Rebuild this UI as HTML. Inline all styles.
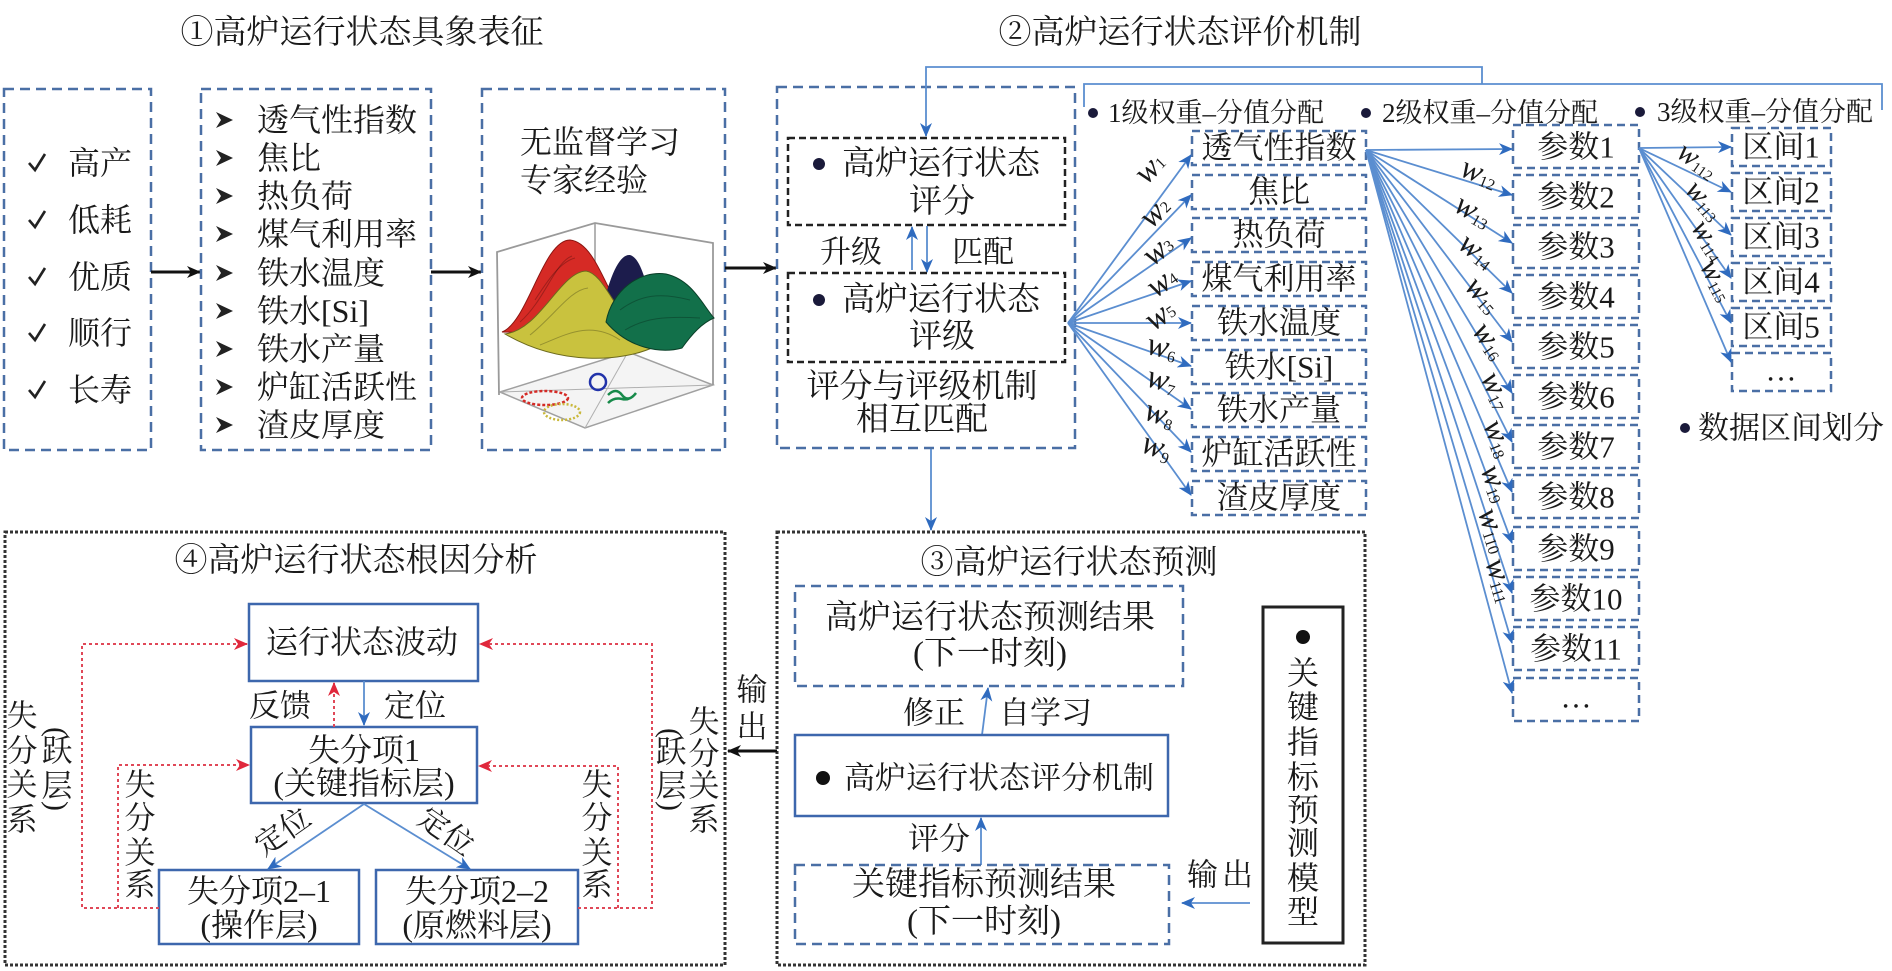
<!DOCTYPE html>
<html><head><meta charset="utf-8">
<style>
html,body{margin:0;padding:0;background:#fff}
svg{display:block;font-family:"Liberation Serif","Noto Serif CJK SC","Noto Serif CJK JP","Noto Serif CJK",serif}
text{dominant-baseline:central}
.m{text-anchor:middle}
.bd{fill:none;stroke:#4a6fa5;stroke-width:2.5;stroke-dasharray:10 6}
.sd{fill:none;stroke:#4a6fa5;stroke-width:2.5;stroke-dasharray:8 5}
.kd{fill:none;stroke:#222;stroke-width:2.5;stroke-dasharray:7 4}
.od{fill:none;stroke:#333;stroke-width:3;stroke-dasharray:3 2}
.bs{fill:none;stroke:#3d67ad;stroke-width:2.5}
.ln{fill:none;stroke:#5b8ed0;stroke-width:1.8}
.rd{fill:none;stroke:#e04858;stroke-width:2;stroke-dasharray:3 3}
.wl{font-family:"Liberation Serif",serif}
</style></head>
<body>
<svg width="1892" height="971" viewBox="0 0 1892 971" xmlns="http://www.w3.org/2000/svg" fill="#1a1a1a">
<defs>
<marker id="ab" markerUnits="userSpaceOnUse" markerWidth="14" markerHeight="12" refX="13" refY="6" orient="auto"><path d="M0,0 L14,6 L0,12 L4,6 z" fill="#2f6bbf"/></marker>
<marker id="ak" markerUnits="userSpaceOnUse" markerWidth="14" markerHeight="12" refX="13" refY="6" orient="auto"><path d="M0,0 L14,6 L0,12 L4,6 z" fill="#111"/></marker>
<marker id="ar" markerUnits="userSpaceOnUse" markerWidth="14" markerHeight="12" refX="13" refY="6" orient="auto"><path d="M0,0 L14,6 L0,12 L4,6 z" fill="#e0283c"/></marker>
</defs>

<!-- Titles -->
<text x="362" y="33" font-size="33" class="m">①高炉运行状态具象表征</text>
<text x="1180" y="33" font-size="33" class="m">②高炉运行状态评价机制</text>

<!-- Box 1 -->
<rect x="4" y="89" width="147" height="361" class="bd"/>
<g stroke="#222" stroke-width="2.6" fill="none">
<path d="M29,163 L35,170 L45,154"/>
<path d="M29,220 L35,227 L45,211"/>
<path d="M29,277 L35,284 L45,268"/>
<path d="M29,333 L35,340 L45,324"/>
<path d="M29,390 L35,397 L45,381"/>
</g>
<g font-size="32">
<text x="68" y="163">高产</text>
<text x="68" y="220">低耗</text>
<text x="68" y="277">优质</text>
<text x="68" y="333">顺行</text>
<text x="68" y="390">长寿</text>
</g>
<line x1="151" y1="272" x2="200" y2="272" stroke="#111" stroke-width="3" marker-end="url(#ak)"/>

<!-- Box 2 -->
<rect x="201" y="89" width="230" height="361" class="bd"/>
<g fill="#222">
<polygon points="216,112 233,120 216,128 221,120"/>
<polygon points="216,150 233,158 216,166 221,158"/>
<polygon points="216,188 233,196 216,204 221,196"/>
<polygon points="216,226 233,234 216,242 221,234"/>
<polygon points="216,265 233,273 216,281 221,273"/>
<polygon points="216,303 233,311 216,319 221,311"/>
<polygon points="216,341 233,349 216,357 221,349"/>
<polygon points="216,379 233,387 216,395 221,387"/>
<polygon points="216,417 233,425 216,433 221,425"/>
</g>
<g font-size="32">
<text x="257" y="120">透气性指数</text>
<text x="257" y="158">焦比</text>
<text x="257" y="196">热负荷</text>
<text x="257" y="234">煤气利用率</text>
<text x="257" y="273">铁水温度</text>
<text x="257" y="311">铁水[Si]</text>
<text x="257" y="349">铁水产量</text>
<text x="257" y="387">炉缸活跃性</text>
<text x="257" y="425">渣皮厚度</text>
</g>
<line x1="431" y1="272" x2="481" y2="272" stroke="#111" stroke-width="3" marker-end="url(#ak)"/>

<!-- Box 3 -->
<rect x="482" y="89" width="243" height="361" class="bd"/>
<text x="520" y="142" font-size="32">无监督学习</text>
<text x="520" y="180" font-size="32">专家经验</text>
<!-- 3D plot -->
<g>
<polygon points="500,392 585,428 713,385 628,352" fill="#f4f4f4" stroke="#a0a0a0" stroke-width="1.5"/>
<line x1="500" y1="392" x2="713" y2="385" stroke="#b0b0b0" stroke-width="1"/>
<line x1="585" y1="428" x2="628" y2="352" stroke="#b0b0b0" stroke-width="1"/>
<polyline points="499,395 497,252 595,223 713,243 713,385" fill="none" stroke="#9a9a9a" stroke-width="1.8"/>
<line x1="595" y1="223" x2="595" y2="300" stroke="#9a9a9a" stroke-width="1.5"/>
<ellipse cx="545" cy="398" rx="23" ry="7" fill="none" stroke="#d42a25" stroke-width="2.5" stroke-dasharray="3 2"/>
<ellipse cx="562" cy="412" rx="18" ry="8" fill="none" stroke="#c9b83a" stroke-width="2.5" stroke-dasharray="2 2"/>
<circle cx="598" cy="382" r="8" fill="none" stroke="#2233aa" stroke-width="2.5"/>
<path d="M608,395 q8,-8 14,0 t14,-2 q-6,8 -14,6 t-14,4" fill="none" stroke="#178a4a" stroke-width="2.5"/>
<path d="M502,332 C528,322 543,240 570,240 C592,242 604,282 616,302 L600,334 Z" fill="#d62a25" stroke="#8a1410" stroke-width="1"/>
<path d="M604,302 C612,270 621,254 630,255 C641,258 646,284 652,302 Z" fill="#1c1c4c"/>
<path d="M505,334 C540,330 560,272 586,271 C606,274 616,320 654,347 C622,362 560,366 505,334 Z" fill="#c9c23e" stroke="#6d6a1c" stroke-width="1"/>
<path d="M606,322 C612,290 640,270 666,274 C692,280 702,304 714,318 C702,323 692,334 682,348 C660,354 628,348 606,322 Z" fill="#12704a" stroke="#0a3f28" stroke-width="1"/>
<g stroke="#000" stroke-opacity="0.25" stroke-width="1" fill="none">
<path d="M520,322 C545,300 555,262 572,256"/><path d="M530,335 C555,315 570,290 588,288"/>
<path d="M620,310 C640,295 660,292 690,300"/><path d="M625,330 C645,318 665,316 700,318"/>
<path d="M540,345 C565,335 590,320 620,340"/><path d="M535,300 C548,280 560,262 575,258"/>
</g>
</g>
<line x1="725" y1="268" x2="776" y2="268" stroke="#111" stroke-width="3" marker-end="url(#ak)"/>

<!-- Section 2 left -->
<rect x="777" y="87" width="298" height="361" class="bd"/>
<polyline class="ln" points="1482,84 1482,67 926,67 926,136" marker-end="url(#ab)"/>
<polyline class="ln" points="1084,107 1084,84 1882,84 1882,110"/>
<rect x="788" y="138" width="277" height="87" class="kd"/>
<circle cx="819" cy="164" r="6" fill="#1a1a3a"/>
<text x="842" y="164" font-size="33">高炉运行状态</text>
<text x="942" y="202" font-size="33" class="m">评分</text>
<text x="820" y="252" font-size="31">升级</text>
<text x="952" y="252" font-size="31">匹配</text>
<line x1="912" y1="270" x2="912" y2="227" class="ln" marker-end="url(#ab)"/>
<line x1="927" y1="226" x2="927" y2="272" class="ln" marker-end="url(#ab)"/>
<rect x="788" y="273" width="277" height="89" class="kd"/>
<circle cx="819" cy="300" r="6" fill="#1a1a3a"/>
<text x="842" y="300" font-size="33">高炉运行状态</text>
<text x="942" y="337" font-size="33" class="m">评级</text>
<text x="922" y="387" font-size="33" class="m">评分与评级机制</text>
<text x="922" y="420" font-size="33" class="m">相互匹配</text>
<line x1="931" y1="449" x2="931" y2="530" class="ln" marker-end="url(#ab)"/>

<!-- Level labels -->
<circle cx="1093" cy="113" r="5" fill="#1a1a3a"/>
<text x="1108" y="113" font-size="27">1级权重–分值分配</text>
<circle cx="1366" cy="113" r="5" fill="#1a1a3a"/>
<text x="1382" y="113" font-size="27">2级权重–分值分配</text>
<circle cx="1640" cy="112" r="5" fill="#1a1a3a"/>
<text x="1657" y="112" font-size="27">3级权重–分值分配</text>

<!-- Column 1 -->
<g>
<rect x="1192" y="131" width="174" height="34" class="sd"/>
<rect x="1192" y="175" width="174" height="34" class="sd"/>
<rect x="1192" y="218" width="174" height="34" class="sd"/>
<rect x="1192" y="262" width="174" height="34" class="sd"/>
<rect x="1192" y="306" width="174" height="34" class="sd"/>
<rect x="1192" y="350" width="174" height="34" class="sd"/>
<rect x="1192" y="393" width="174" height="34" class="sd"/>
<rect x="1192" y="437" width="174" height="34" class="sd"/>
<rect x="1192" y="481" width="174" height="34" class="sd"/>
</g>
<g font-size="31" class="m">
<text x="1279" y="148">透气性指数</text>
<text x="1279" y="192">焦比</text>
<text x="1279" y="235">热负荷</text>
<text x="1279" y="279">煤气利用率</text>
<text x="1279" y="323">铁水温度</text>
<text x="1279" y="367">铁水[Si]</text>
<text x="1279" y="410">铁水产量</text>
<text x="1279" y="454">炉缸活跃性</text>
<text x="1279" y="498">渣皮厚度</text>
</g>
<g class="ln">
<line x1="1068" y1="323" x2="1191" y2="155" marker-end="url(#ab)"/>
<line x1="1068" y1="323" x2="1191" y2="195" marker-end="url(#ab)"/>
<line x1="1068" y1="323" x2="1191" y2="238" marker-end="url(#ab)"/>
<line x1="1068" y1="323" x2="1191" y2="281" marker-end="url(#ab)"/>
<line x1="1068" y1="323" x2="1191" y2="323" marker-end="url(#ab)"/>
<line x1="1068" y1="323" x2="1191" y2="366" marker-end="url(#ab)"/>
<line x1="1068" y1="323" x2="1191" y2="409" marker-end="url(#ab)"/>
<line x1="1068" y1="323" x2="1191" y2="452" marker-end="url(#ab)"/>
<line x1="1068" y1="323" x2="1191" y2="495" marker-end="url(#ab)"/>
</g>
<g class="wl">
<text transform="translate(1150,168) rotate(-45)" class="m"><tspan font-size="33" font-style="italic">w</tspan><tspan font-size="16" dy="4">1</tspan></text>
<text transform="translate(1155,212) rotate(-45)" class="m"><tspan font-size="33" font-style="italic">w</tspan><tspan font-size="16" dy="4">2</tspan></text>
<text transform="translate(1158,250) rotate(-40)" class="m"><tspan font-size="33" font-style="italic">w</tspan><tspan font-size="16" dy="4">3</tspan></text>
<text transform="translate(1162,282) rotate(-35)" class="m"><tspan font-size="33" font-style="italic">w</tspan><tspan font-size="16" dy="4">4</tspan></text>
<text transform="translate(1160,315) rotate(-35)" class="m"><tspan font-size="33" font-style="italic">w</tspan><tspan font-size="16" dy="4">5</tspan></text>
<text transform="translate(1162,347) rotate(12)" class="m"><tspan font-size="33" font-style="italic">w</tspan><tspan font-size="16" dy="8">6</tspan></text>
<text transform="translate(1162,380) rotate(15)" class="m"><tspan font-size="33" font-style="italic">w</tspan><tspan font-size="16" dy="8">7</tspan></text>
<text transform="translate(1160,414) rotate(18)" class="m"><tspan font-size="33" font-style="italic">w</tspan><tspan font-size="16" dy="8">8</tspan></text>
<text transform="translate(1157,447) rotate(20)" class="m"><tspan font-size="33" font-style="italic">w</tspan><tspan font-size="16" dy="8">9</tspan></text>
</g>

<!-- Column 2 -->
<g>
<rect x="1513" y="125" width="126" height="43" class="sd"/>
<rect x="1513" y="175" width="126" height="43" class="sd"/>
<rect x="1513" y="225" width="126" height="43" class="sd"/>
<rect x="1513" y="275" width="126" height="43" class="sd"/>
<rect x="1513" y="325" width="126" height="43" class="sd"/>
<rect x="1513" y="375" width="126" height="43" class="sd"/>
<rect x="1513" y="425" width="126" height="43" class="sd"/>
<rect x="1513" y="475" width="126" height="43" class="sd"/>
<rect x="1513" y="527" width="126" height="43" class="sd"/>
<rect x="1513" y="577" width="126" height="43" class="sd"/>
<rect x="1513" y="627" width="126" height="43" class="sd"/>
<rect x="1513" y="678" width="126" height="43" class="sd"/>
</g>
<g font-size="31" class="m">
<text x="1576" y="147">参数1</text>
<text x="1576" y="197">参数2</text>
<text x="1576" y="247">参数3</text>
<text x="1576" y="297">参数4</text>
<text x="1576" y="347">参数5</text>
<text x="1576" y="397">参数6</text>
<text x="1576" y="447">参数7</text>
<text x="1576" y="497">参数8</text>
<text x="1576" y="549">参数9</text>
<text x="1576" y="599">参数10</text>
<text x="1576" y="649">参数11</text>
<text x="1576" y="697">…</text>
</g>
<g class="ln">
<line x1="1366" y1="150" x2="1512" y2="149" marker-end="url(#ab)"/>
<line x1="1366" y1="150" x2="1512" y2="195" marker-end="url(#ab)"/>
<line x1="1366" y1="150" x2="1512" y2="243" marker-end="url(#ab)"/>
<line x1="1366" y1="150" x2="1512" y2="293" marker-end="url(#ab)"/>
<line x1="1366" y1="150" x2="1512" y2="342" marker-end="url(#ab)"/>
<line x1="1366" y1="150" x2="1512" y2="393" marker-end="url(#ab)"/>
<line x1="1366" y1="150" x2="1512" y2="442" marker-end="url(#ab)"/>
<line x1="1366" y1="150" x2="1512" y2="492" marker-end="url(#ab)"/>
<line x1="1366" y1="150" x2="1512" y2="543" marker-end="url(#ab)"/>
<line x1="1366" y1="150" x2="1512" y2="593" marker-end="url(#ab)"/>
<line x1="1366" y1="150" x2="1512" y2="643" marker-end="url(#ab)"/>
<line x1="1366" y1="150" x2="1512" y2="693" marker-end="url(#ab)"/>
</g>
<g class="wl">
<text transform="translate(1480,172) rotate(22)" class="m"><tspan font-size="32" font-style="italic">w</tspan><tspan font-size="16" dy="8">12</tspan></text>
<text transform="translate(1474,210) rotate(30)" class="m"><tspan font-size="32" font-style="italic">w</tspan><tspan font-size="16" dy="8">13</tspan></text>
<text transform="translate(1478,250) rotate(38)" class="m"><tspan font-size="32" font-style="italic">w</tspan><tspan font-size="16" dy="8">14</tspan></text>
<text transform="translate(1484,294) rotate(48)" class="m"><tspan font-size="32" font-style="italic">w</tspan><tspan font-size="16" dy="8">15</tspan></text>
<text transform="translate(1491,340) rotate(55)" class="m"><tspan font-size="32" font-style="italic">w</tspan><tspan font-size="16" dy="8">16</tspan></text>
<text transform="translate(1498,390) rotate(65)" class="m"><tspan font-size="32" font-style="italic">w</tspan><tspan font-size="16" dy="8">17</tspan></text>
<text transform="translate(1500,438) rotate(68)" class="m"><tspan font-size="32" font-style="italic">w</tspan><tspan font-size="16" dy="8">18</tspan></text>
<text transform="translate(1497,483) rotate(70)" class="m"><tspan font-size="32" font-style="italic">w</tspan><tspan font-size="16" dy="8">19</tspan></text>
<text transform="translate(1495,530) rotate(72)" class="m"><tspan font-size="32" font-style="italic">w</tspan><tspan font-size="16" dy="8">110</tspan></text>
<text transform="translate(1502,580) rotate(73)" class="m"><tspan font-size="32" font-style="italic">w</tspan><tspan font-size="16" dy="8">111</tspan></text>
</g>

<!-- Column 3 -->
<g>
<rect x="1732" y="128" width="99" height="38" class="sd"/>
<rect x="1732" y="173" width="99" height="38" class="sd"/>
<rect x="1732" y="218" width="99" height="38" class="sd"/>
<rect x="1732" y="263" width="99" height="38" class="sd"/>
<rect x="1732" y="308" width="99" height="38" class="sd"/>
<rect x="1732" y="353" width="99" height="38" class="sd"/>
</g>
<g font-size="31" class="m">
<text x="1781" y="147">区间1</text>
<text x="1781" y="192">区间2</text>
<text x="1781" y="237">区间3</text>
<text x="1781" y="282">区间4</text>
<text x="1781" y="327">区间5</text>
<text x="1781" y="370">…</text>
</g>
<g class="ln">
<line x1="1639" y1="148" x2="1731" y2="147" marker-end="url(#ab)"/>
<line x1="1639" y1="148" x2="1731" y2="192" marker-end="url(#ab)"/>
<line x1="1639" y1="148" x2="1731" y2="235" marker-end="url(#ab)"/>
<line x1="1639" y1="148" x2="1731" y2="278" marker-end="url(#ab)"/>
<line x1="1639" y1="148" x2="1731" y2="323" marker-end="url(#ab)"/>
<line x1="1639" y1="148" x2="1731" y2="362" marker-end="url(#ab)"/>
</g>
<g class="wl">
<text transform="translate(1698,160) rotate(35)" class="m"><tspan font-size="30" font-style="italic">w</tspan><tspan font-size="15" dy="8">112</tspan></text>
<text transform="translate(1705,200) rotate(50)" class="m"><tspan font-size="30" font-style="italic">w</tspan><tspan font-size="15" dy="8">113</tspan></text>
<text transform="translate(1710,240) rotate(58)" class="m"><tspan font-size="30" font-style="italic">w</tspan><tspan font-size="15" dy="8">114</tspan></text>
<text transform="translate(1718,280) rotate(62)" class="m"><tspan font-size="30" font-style="italic">w</tspan><tspan font-size="15" dy="8">115</tspan></text>
</g>
<circle cx="1685" cy="428" r="5" fill="#1a1a3a"/>
<text x="1698" y="428" font-size="31">数据区间划分</text>

<!-- Section 3 -->
<rect x="777" y="532" width="588" height="433" class="od"/>
<text x="1069" y="563" font-size="33" class="m">③高炉运行状态预测</text>
<rect x="795" y="586" width="388" height="100" class="bd"/>
<text x="990" y="618" font-size="33" class="m">高炉运行状态预测结果</text>
<text x="990" y="654" font-size="33" class="m">(下一时刻)</text>
<text x="903" y="713" font-size="31">修正</text>
<text x="999" y="713" font-size="31">自学习</text>
<line x1="982" y1="735" x2="988" y2="688" class="ln" marker-end="url(#ab)"/>
<rect x="795" y="735" width="373" height="81" class="bs"/>
<circle cx="823" cy="778" r="7" fill="#111"/>
<text x="844" y="778" font-size="31">高炉运行状态评分机制</text>
<text x="908" y="839" font-size="31">评分</text>
<line x1="981" y1="865" x2="981" y2="818" class="ln" marker-end="url(#ab)"/>
<rect x="795" y="865" width="374" height="79" class="bd"/>
<text x="984" y="885" font-size="33" class="m">关键指标预测结果</text>
<text x="984" y="922" font-size="33" class="m">(下一时刻)</text>
<text x="1187" y="875" font-size="31" letter-spacing="4">输出</text>
<line x1="1250" y1="903" x2="1182" y2="903" class="ln" marker-end="url(#ab)"/>
<rect x="1263" y="607" width="80" height="336" fill="none" stroke="#222" stroke-width="3"/>
<circle cx="1303" cy="637" r="7" fill="#111"/>
<g font-size="32" class="m">
<text x="1303" y="673">关</text>
<text x="1303" y="707">键</text>
<text x="1303" y="742">指</text>
<text x="1303" y="777">标</text>
<text x="1303" y="810">预</text>
<text x="1303" y="843">测</text>
<text x="1303" y="878">模</text>
<text x="1303" y="912">型</text>
</g>

<!-- Output arrow 3 -> 4 -->
<line x1="777" y1="751" x2="728" y2="751" stroke="#111" stroke-width="3" marker-end="url(#ak)"/>
<text x="752" y="690" font-size="31" class="m">输</text>
<text x="752" y="727" font-size="31" class="m">出</text>

<!-- Section 4 -->
<rect x="5" y="532" width="720" height="433" class="od"/>
<text x="356" y="561" font-size="33" class="m">④高炉运行状态根因分析</text>
<rect x="249" y="604" width="229" height="77" class="bs"/>
<text x="362" y="642" font-size="32" class="m">运行状态波动</text>
<rect x="251" y="727" width="226" height="76" class="bs"/>
<text x="364" y="750" font-size="32" class="m">失分项1</text>
<text x="364" y="783" font-size="32" class="m">(关键指标层)</text>
<rect x="159" y="870" width="200" height="74" class="bs"/>
<text x="259" y="891" font-size="32" class="m">失分项2–1</text>
<text x="259" y="925" font-size="32" class="m">(操作层)</text>
<rect x="376" y="870" width="202" height="74" class="bs"/>
<text x="477" y="891" font-size="32" class="m">失分项2–2</text>
<text x="477" y="925" font-size="32" class="m">(原燃料层)</text>
<text x="249" y="706" font-size="31">反馈</text>
<text x="384" y="706" font-size="31">定位</text>
<line x1="364" y1="681" x2="364" y2="725" class="ln" marker-end="url(#ab)"/>
<line x1="334" y1="727" x2="334" y2="683" class="rd" marker-end="url(#ar)"/>
<line x1="364" y1="804" x2="268" y2="869" class="ln" marker-end="url(#ab)"/>
<line x1="364" y1="804" x2="470" y2="869" class="ln" marker-end="url(#ab)"/>
<text transform="translate(283,832) rotate(-35)" font-size="30" class="m">定位</text>
<text transform="translate(446,832) rotate(35)" font-size="30" class="m">定位</text>
<polyline class="rd" points="159,908 82,908 82,644 247,644" marker-end="url(#ar)"/>
<polyline class="rd" points="118,908 118,765 249,765" marker-end="url(#ar)"/>
<polyline class="rd" points="578,908 652,908 652,644 480,644" marker-end="url(#ar)"/>
<polyline class="rd" points="618,908 618,766 479,766" marker-end="url(#ar)"/>
<g font-size="31" class="m">
<text x="22" y="716">失</text>
<text x="22" y="751">分</text>
<text x="22" y="785">关</text>
<text x="22" y="820">系</text>
<text x="57" y="751">跃</text>
<text x="57" y="786">层</text>
<text x="140" y="785">失</text>
<text x="140" y="818">分</text>
<text x="140" y="853">关</text>
<text x="140" y="885">系</text>
<text x="597" y="785">失</text>
<text x="597" y="818">分</text>
<text x="597" y="853">关</text>
<text x="597" y="885">系</text>
<text x="671" y="752">跃</text>
<text x="671" y="786">层</text>
<text x="704" y="722">失</text>
<text x="704" y="754">分</text>
<text x="704" y="786">关</text>
<text x="704" y="820">系</text>
</g>
<g class="wl" font-size="30">
<text transform="translate(57,732) rotate(90)" class="m">(</text>
<text transform="translate(57,806) rotate(90)" class="m">)</text>
<text transform="translate(671,733) rotate(90)" class="m">(</text>
<text transform="translate(671,806) rotate(90)" class="m">)</text>
</g>
</svg>
</body></html>
